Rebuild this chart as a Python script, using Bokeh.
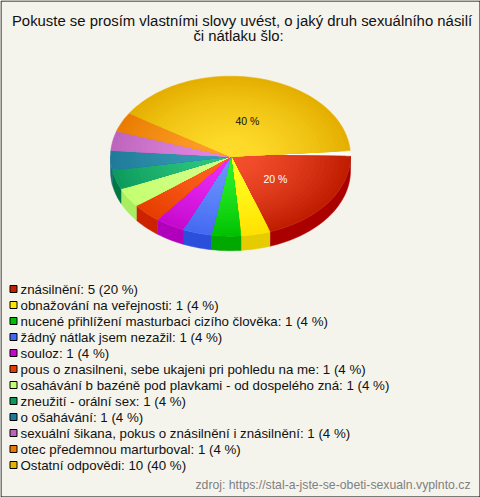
import math
from bokeh.plotting import figure
from bokeh.models import Range1d, ColumnDataSource
from bokeh.core.properties import value
from bokeh.embed import file_html
from bokeh.resources import INLINE

title_lines = ["Pokuste se prosím vlastními slovy uvést, o jaký druh sexuálního násilí", "či nátlaku šlo:"]
categories = ["znásilnění", "obnažování na veřejnosti", "nucené přihlížení masturbaci cizího člověka",
              "žádný nátlak jsem nezažil", "souloz", "pous o znasilneni, sebe ukajeni pri pohledu na me",
              "osahávání b bazéně pod plavkami - od dospelého zná", "zneužití - orální sex", "o ošahávání",
              "sexuální šikana, pokus o znásilnění i znásilnění", "otec předemnou marturboval", "Ostatní odpovědi"]
counts = [5, 1, 1, 1, 1, 1, 1, 1, 1, 1, 1, 10]
source_text = "zdroj: https://stal-a-jste-se-obeti-sexualn.vyplnto.cz"
inner = ["#F5502E", "#FFFF22", "#2CF02A", "#6A94FF", "#EC2CF4", "#FF6420", "#D4FF88", "#2EC880", "#389CB6", "#E288E2", "#FFA02C", "#FFDD2C"]
outer = ["#BE1B00", "#FFE000", "#00C000", "#4468F0", "#C408CC", "#E63C00", "#C4FF70", "#0C9A5C", "#1E7A98", "#BC64BC", "#E87C00", "#E4AE00"]
wall = ["#AA0000", "#E5CC00", "#00A800", "#2B4FDD", "#B000BB", "#CC2200", "#A8EE60", "#007744", "#166A80", "#9A4A9A", "#C06000", "#B08800"]
legend_fill = ["#C41E00", "#FFE800", "#00C000", "#4468F0", "#C408CC", "#E63C00", "#C4FF70", "#0C9A5C", "#1E7A98", "#BC64BC", "#E87C00", "#E8B400"]

BG = "#F5F4EC"
CX, CY, RX, RY, DEPTH = 230, 155.7, 120, 80, 14.5
FONT = "Liberation Sans"
total = sum(counts)

def pt(a, f=1.0, dy=0.0):
    r = math.radians(a)
    return CX + RX * f * math.cos(r), CY + RY * f * math.sin(r) + dy

def mix(c1, c2, t):
    a = [int(c1[i:i + 2], 16) for i in (1, 3, 5)]
    b = [int(c2[i:i + 2], 16) for i in (1, 3, 5)]
    return "#%02x%02x%02x" % tuple(round(u + (v - u) * t) for u, v in zip(a, b))

# slice angles: the last slice is pulled away from the 3 o'clock edge
spans = []
a = 0.0
for i, c in enumerate(counts):
    if i < len(counts) - 1:
        s = c / total * 360 * 212.5 / 216
        spans.append((a, a + s))
        a += s
    else:
        spans.append((a, 356.0))

p = figure(width=480, height=497, x_range=Range1d(0, 480), y_range=Range1d(497, 0),
           output_backend="svg", toolbar_location=None, min_border=0,
           background_fill_color=BG, border_fill_color=BG, outline_line_color=None)
p.axis.visible = False
p.grid.visible = False
p.styles = {"position": "absolute", "left": "0", "top": "0"}

xs, ys, col = [], [], []
# pale gap between the last and the first slice
gap = [pt(356 + k) for k in range(5)]
xs.append([CX] + [q[0] for q in gap])
ys.append([CY] + [q[1] for q in gap])
col.append("#FDFCF6")
# side wall
for (a0, a1), c in zip(spans, wall):
    lo, hi = max(a0, 0), min(a1, 180)
    if hi <= lo:
        continue
    n = max(2, int((hi - lo) / 2))
    ang = [lo + (hi - lo) * k / n for k in range(n + 1)]
    top = [pt(t) for t in ang]
    bot = [pt(t, dy=DEPTH) for t in reversed(ang)]
    xs.append([q[0] for q in top + bot])
    ys.append([q[1] for q in top + bot])
    col.append(c)
# top face with concentric colour bands
BANDS = 24
for (a0, a1), ci, co in zip(spans, inner, outer):
    n = max(3, int((a1 - a0) / 2))
    ang = [a0 + (a1 - a0) * k / n for k in range(n + 1)]
    for b in range(BANDS, 0, -1):
        f = b / BANDS
        rim = [pt(t, f) for t in ang]
        xs.append([CX] + [q[0] for q in rim])
        ys.append([CY] + [q[1] for q in rim])
        col.append(mix(ci, co, ((b - 0.5) / BANDS) ** 1.5))
p.patches("xs", "ys", source=ColumnDataSource(dict(xs=xs, ys=ys, c=col)),
          fill_color="c", line_color="c", line_width=0.5)

# percentage labels on the large slices
for (a0, a1), c, tc, dx in zip([spans[0], spans[-1]], [counts[0], counts[-1]], ["#FFFFFF", "#111111"], [-1, 3]):
    lx, ly = pt((a0 + a1) / 2, 0.47)
    p.text([lx + dx], [ly + 1], text=[f"{round(c / total * 100)} %"], text_font=value(FONT), text_font_size="10.5px",
           text_color=tc, text_align="center", text_baseline="middle")

# title
p.text([241.5], [20], text=[title_lines[0]], text_font=value(FONT), text_font_size="14.9px", text_color="#111111",
       text_align="center", text_baseline="middle")
p.text([238], [35], text=[title_lines[1]], text_font=value(FONT), text_font_size="14.9px", text_color="#111111",
       text_align="center", text_baseline="middle")

# legend
ly = [289 + 16 * i for i in range(len(categories))]
p.rect([13] * len(ly), [y - 0.5 for y in ly], width=7, height=7, fill_color=legend_fill, line_color="#000000",
       line_width=1, line_join="miter")
p.text([20] * len(ly), ly,
       text=[f"{n}: {c} ({round(c / total * 100)} %)" for n, c in zip(categories, counts)],
       text_font=value(FONT), text_font_size="13.3px", text_color="#111111", text_baseline="middle")

p.text([470], [484.5], text=[source_text], text_font=value(FONT), text_font_size="12.25px", text_color="#808080",
       text_align="right", text_baseline="middle")

# frame
p.quad(left=[0.5], right=[479.5], top=[0.5], bottom=[496.5], fill_color=None, line_color="#000000", line_width=1,
       line_join="miter")

open("out.html", "w").write(file_html(p, INLINE))
